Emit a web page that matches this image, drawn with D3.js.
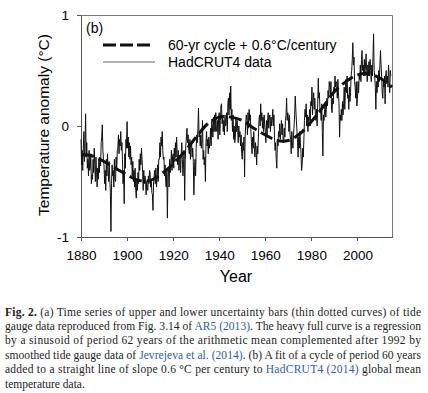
<!DOCTYPE html>
<html>
<head>
<meta charset="utf-8">
<script src="https://cdn.jsdelivr.net/npm/d3@7"></script>
<style>
  body { margin: 0; background: #fff; }
  svg { display: block; }
  .axis text { font-family: "Liberation Sans", Arial, sans-serif; font-size: 13.5px; fill: #000; }
  .axis path, .axis line { stroke: #555; stroke-width: 1; shape-rendering: crispEdges; }
</style>
</head>
<body>
<div id="chart"></div>
<script>
// HadCRUT4 anomaly, four readings per year starting at 1880
var hadStart = 1880;
var hadPerYear = 4;
var hadValues = [
  -0.12, -0.35, -0.22, -0.40,   -0.20, -0.05, -0.32, -0.18,   0.11, -0.28, -0.15, -0.38,   -0.30, -0.45, -0.22, -0.40,
  -0.38, -0.25, -0.52, -0.44,   -0.48, -0.30, -0.42, -0.20,   -0.35, -0.50, -0.28, -0.42,   -0.55, -0.38, -0.48, -0.30,
  -0.42, -0.28, -0.36, -0.15,   -0.10, 0.01, -0.22, -0.30,
  // 1890s
  -0.36, -0.52, -0.40, -0.58,   -0.30, -0.45, -0.25, -0.40,   -0.50, -0.32, -0.48, -0.60,   -0.95, -0.52, -0.35, -0.45,
  -0.40, -0.55, -0.30, -0.48,   -0.50, -0.28, -0.40, -0.22,   -0.20, -0.08, -0.25, -0.12,   -0.18, -0.05, -0.22, -0.15,
  -0.30, -0.52, -0.40, -0.70,   -0.25, -0.38, -0.12, -0.20,
  // 1900s
  0.04, -0.20, -0.10, -0.28,    -0.15, -0.30, -0.18, -0.35,   -0.28, -0.45, -0.32, -0.50,   -0.40, -0.55, -0.38, -0.58,
  -0.65, -0.48, -0.58, -0.42,   -0.52, -0.30, -0.40, -0.25,   -0.35, -0.20, -0.30, -0.42,   -0.58, -0.40, -0.52, -0.45,
  -0.48, -0.62, -0.50, -0.55,   -0.58, -0.45, -0.52, -0.40,
  // 1910s
  -0.42, -0.55, -0.48, -0.60,   -0.62, -0.76, -0.50, -0.45,   -0.40, -0.52, -0.38, -0.55,   -0.48, -0.35, -0.50, -0.30,
  -0.30, -0.15, -0.28, -0.10,   -0.18, -0.05, -0.22, -0.30,   -0.28, -0.45, -0.35, -0.50,   -0.55, -0.40, -0.83, -0.45,
  -0.38, -0.55, -0.30, -0.42,   -0.35, -0.22, -0.40, -0.28,
  // 1920s
  -0.25, -0.38, -0.20, -0.32,   -0.15, -0.28, -0.10, -0.25,   -0.35, -0.22, -0.40, -0.30,   -0.28, -0.42, -0.25, -0.15,
  -0.30, -0.45, -0.35, -0.22,   -0.67, -0.30, -0.18, -0.10,   -0.02, -0.15, -0.08, -0.20,   -0.25, -0.12, -0.30, -0.18,
  -0.15, -0.28, -0.20, -0.32,   -0.62, -0.40, -0.30, -0.45,
  // 1930s
  -0.20, -0.08, -0.15, -0.02,   0.16, -0.10, -0.05, -0.18,    -0.08, -0.20, -0.12, 0.05,    -0.30, -0.22, -0.35, -0.28,
  -0.50, -0.15, -0.05, -0.18,   -0.12, -0.25, -0.10, -0.20,   -0.15, -0.02, -0.18, 0.05,    0.00, -0.10, 0.08, -0.05,
  0.10, -0.05, 0.12, -0.02,     -0.05, 0.05, -0.12, 0.08,
  // 1940s
  0.12, -0.08, 0.05, 0.18,      0.20, 0.02, 0.10, -0.05,      0.05, -0.08, 0.10, 0.00,      0.02, 0.12, -0.05, 0.20,
  0.25, 0.10, 0.30, 0.15,       0.36, 0.05, 0.15, -0.05,      0.10, -0.12, 0.00, -0.15,     -0.10, 0.08, -0.05, 0.05,
  -0.02, -0.15, 0.00, -0.10,    -0.05, -0.18, -0.08, -0.25,
  // 1950s
  -0.30, -0.15, -0.22, -0.10,   -0.46, -0.10, 0.02, 0.10,     0.05, -0.08, 0.12, -0.02,     0.15, 0.05, 0.10, -0.05,
  -0.15, -0.25, -0.10, -0.20,   -0.05, -0.20, -0.28, -0.15,   -0.22, -0.35, -0.18, -0.25,   -0.10, 0.05, 0.10, 0.00,
  0.20, 0.05, 0.12, -0.02,      0.08, -0.05, 0.10, 0.00,
  // 1960s
  -0.05, -0.15, 0.05, -0.08,    0.05, 0.12, -0.02, 0.08,      0.10, -0.05, 0.08, 0.00,      0.05, 0.15, 0.00, 0.10,
  -0.10, -0.22, -0.15, -0.30,   -0.38, -0.12, -0.18, -0.05,   -0.10, 0.02, -0.12, -0.05,    0.05, -0.08, 0.02, -0.12,
  -0.15, -0.02, -0.10, 0.05,    0.10, 0.25, 0.05, 0.12,
  // 1970s
  0.08, -0.05, 0.10, -0.08,     -0.12, -0.25, -0.05, -0.15,   -0.20, -0.08, 0.00, 0.10,     0.27, 0.15, 0.05, -0.05,
  -0.15, -0.28, -0.10, -0.20,   -0.05, -0.15, -0.25, -0.40,   -0.35, -0.20, -0.28, -0.12,   0.05, 0.15, 0.08, 0.20,
  0.00, 0.10, -0.05, 0.08,      0.05, 0.15, 0.00, 0.22,
  // 1980s
  0.18, 0.35, 0.10, 0.25,       0.30, 0.15, 0.25, 0.10,       0.05, 0.15, 0.00, 0.20,       0.43, 0.25, 0.30, 0.12,
  0.15, 0.05, 0.20, -0.05,      -0.27, 0.10, 0.05, 0.15,      0.20, 0.08, 0.15, 0.25,       0.18, 0.32, 0.25, 0.40,
  0.35, 0.28, 0.40, 0.15,       0.12, 0.25, 0.20, 0.35,
  // 1990s
  0.30, 0.45, 0.35, 0.40,       0.38, 0.25, 0.42, 0.30,       0.20, -0.10, 0.10, 0.05,      0.15, 0.05, 0.22, 0.10,
  0.20, 0.35, 0.15, 0.30,       0.42, 0.30, 0.45, 0.25,       0.28, 0.15, 0.35, 0.22,       0.30, 0.45, 0.50, 0.60,
  0.75, 0.55, 0.62, 0.40,       0.35, 0.25, 0.40, 0.18,
  // 2000s
  0.25, 0.40, 0.30, 0.45,       0.42, 0.55, 0.40, 0.60,       0.68, 0.50, 0.55, 0.45,       0.60, 0.45, 0.55, 0.65,
  0.50, 0.40, 0.55, 0.45,       0.58, 0.45, 0.60, 0.50,       0.40, 0.55, 0.45, 0.62,       0.83, 0.50, 0.45, 0.35,
  0.15, 0.40, 0.30, 0.45,       0.35, 0.50, 0.40, 0.55,
  // 2010s
  0.68, 0.55, 0.45, 0.30,       0.25, 0.40, 0.35, 0.45,       0.20, 0.45, 0.50, 0.38,       0.45, 0.35, 0.55, 0.42,
  0.30, 0.50, 0.45
];

// 60-yr cycle + 0.6°C/century fit, read every 5 years
var fitYears = [1880, 1885, 1890, 1895, 1900, 1905, 1910, 1915, 1920, 1925, 1930, 1935, 1940, 1945,
                1950, 1955, 1960, 1965, 1970, 1975, 1980, 1985, 1990, 1995, 2000, 2005, 2010, 2015];
var fitValues = [-0.26, -0.27, -0.32, -0.38, -0.44, -0.49, -0.49, -0.43, -0.34, -0.23, -0.10, 0.02, 0.08, 0.08,
                 0.05, -0.02, -0.08, -0.13, -0.13, -0.07, 0.04, 0.17, 0.31, 0.40, 0.46, 0.47, 0.43, 0.35];

var xTicks = [1880, 1900, 1920, 1940, 1960, 1980, 2000];
var yTicks = [-1, 0, 1];

var legendLabels = ["60-yr cycle + 0.6°C/century", "HadCRUT4 data"];

// caption lines, each is a list of [text, kind] pieces
var captionLines = [
  [["Fig. 2.", "bold"], [" (a) Time series of upper and lower uncertainty bars (thin dotted curves) of tide", ""]],
  [["gauge data reproduced from Fig. 3.14 of ", ""], ["AR5 (2013)", "link"], [". The heavy full curve is a regression", ""]],
  [["by a sinusoid of period 62 years of the arithmetic mean complemented after 1992 by", ""]],
  [["smoothed tide gauge data of ", ""], ["Jevrejeva et al. (2014)", "link"], [". (b) A fit of a cycle of period 60 years", ""]],
  [["added to a straight line of slope 0.6 °C per century to ", ""], ["HadCRUT4 (2014)", "link"], [" global mean", ""]],
  [["temperature data.", ""]]
];

//Size of the picture and the plot box
var W = 428, H = 393;
var margin = { top: 15, left: 81 },
    width = 311,
    height = 222;

var svg = d3.select("#chart").append("svg")
    .attr("width", W)
    .attr("height", H);

var g = svg.append("g")
    .attr("transform", "translate(" + margin.left + "," + margin.top + ")");

var xScale = d3.scaleLinear().domain([1880, 2015]).range([0, width]);
var yScale = d3.scaleLinear().domain([-1, 1]).range([height, 0]);

// frame on top and right
g.append("path")
    .attr("d", "M0,0.5H" + (width + 0.5) + "V" + height)
    .attr("fill", "none")
    .attr("stroke", "#777")
    .attr("stroke-width", 1);

// axes
g.append("g")
    .attr("class", "axis")
    .attr("transform", "translate(0," + height + ")")
    .call(d3.axisBottom(xScale).tickValues(xTicks).tickFormat(function (d) { return String(d); })
        .tickSize(4).tickSizeOuter(0).tickPadding(9));

g.append("g")
    .attr("class", "axis")
    .call(d3.axisLeft(yScale).tickValues(yTicks).tickFormat(function (d) { return String(d); })
        .tickSize(4).tickSizeOuter(0).tickPadding(8));

// HadCRUT4 thin line
var dataLine = d3.line()
    .x(function (d, i) { return xScale(hadStart + i / hadPerYear); })
    .y(function (d) { return yScale(d); });

g.append("path")
    .datum(hadValues)
    .attr("fill", "none")
    .attr("stroke", "#111")
    .attr("stroke-width", 1)
    .attr("d", dataLine);

// dashed fit curve
var fitLine = d3.line()
    .x(function (d, i) { return xScale(fitYears[i]); })
    .y(function (d) { return yScale(d); })
    .curve(d3.curveCatmullRom);

g.append("path")
    .datum(fitValues)
    .attr("fill", "none")
    .attr("stroke", "#111")
    .attr("stroke-width", 3)
    .attr("stroke-dasharray", "13,5")
    .attr("d", fitLine);

// panel letter and legend
var labelFont = "'Liberation Sans', Arial, sans-serif";

svg.append("text")
    .attr("x", 86).attr("y", 33)
    .style("font-family", labelFont).style("font-size", "14px")
    .text("(b)");

svg.append("line")
    .attr("x1", 103).attr("x2", 150).attr("y1", 45).attr("y2", 45)
    .attr("stroke", "#111").attr("stroke-width", 3).attr("stroke-dasharray", "13,4");

svg.append("line")
    .attr("x1", 103).attr("x2", 155).attr("y1", 62).attr("y2", 62)
    .attr("stroke", "#666").attr("stroke-width", 1);

svg.selectAll(".legend-text")
    .data(legendLabels)
    .enter().append("text")
    .attr("class", "legend-text")
    .attr("x", 168)
    .attr("y", function (d, i) { return 50 + i * 17; })
    .style("font-family", labelFont).style("font-size", "14px")
    .text(function (d) { return d; });

// axis titles
svg.append("text")
    .attr("x", 236).attr("y", 282)
    .attr("text-anchor", "middle")
    .style("font-family", labelFont).style("font-size", "16px")
    .text("Year");

svg.append("text")
    .attr("transform", "translate(49,125) rotate(-90)")
    .attr("text-anchor", "middle")
    .style("font-family", labelFont).style("font-size", "15.5px")
    .text("Temperature anomaly (°C)");

// caption below the chart
var caption = svg.append("g").attr("class", "caption");

captionLines.forEach(function (pieces, i) {
    var t = caption.append("text")
        .attr("x", 5)
        .attr("y", 315.5 + i * 14.4)
        .style("font-family", "'Liberation Serif', 'DejaVu Serif', serif")
        .style("font-size", "11.5px")
        .attr("fill", "#222");
    if (i < captionLines.length - 1) {
        t.attr("textLength", 416).attr("lengthAdjust", "spacing");
    }
    pieces.forEach(function (p) {
        t.append("tspan")
            .style("font-weight", p[1] === "bold" ? "bold" : null)
            .attr("fill", p[1] === "link" ? "#2f5ca8" : null)
            .text(p[0]);
    });
});
</script>
</body>
</html>
